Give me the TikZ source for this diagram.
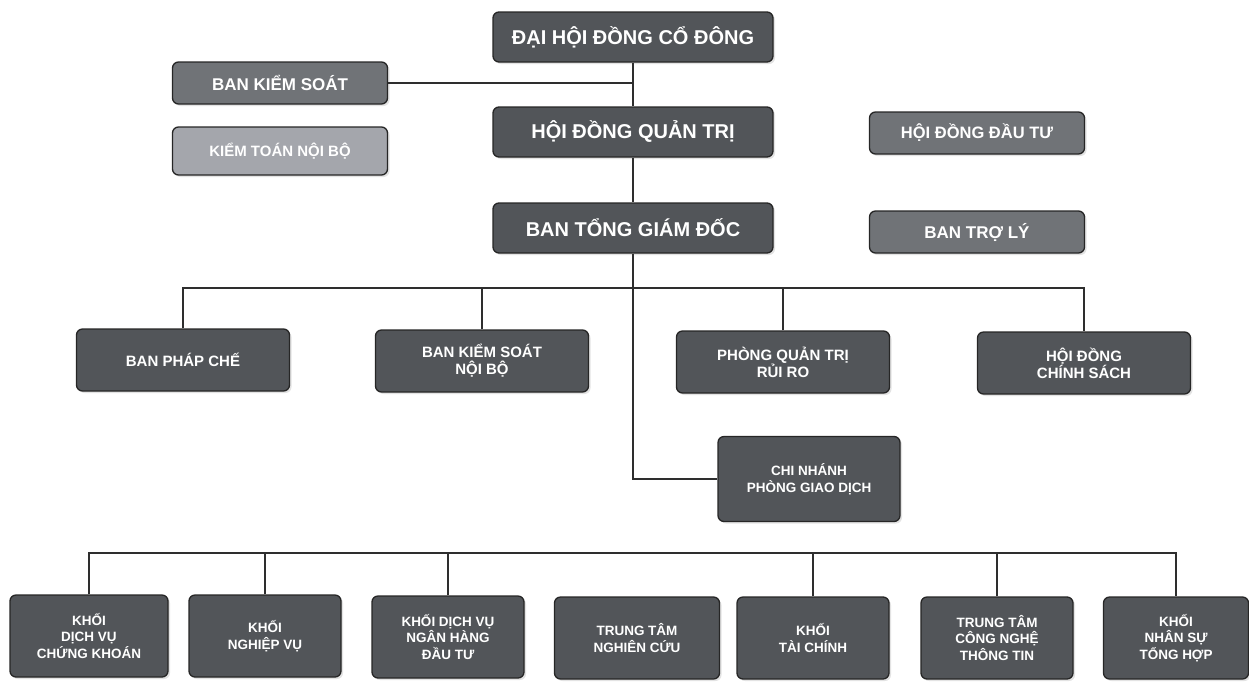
\documentclass[tikz,border=0pt]{standalone}
\usepackage{fontspec}
\setmainfont{Liberation Sans}
\usetikzlibrary{shadows}
\definecolor{boxdark}{HTML}{525559}
\definecolor{boxmid}{HTML}{707377}
\definecolor{boxlight}{HTML}{A4A6AC}
\definecolor{linec}{HTML}{2E2E2E}
\tikzset{
  orgbox/.style={draw=black!85, line width=1.3pt, rounded corners=6pt, fill=boxdark,
    text=white, font=\bfseries, align=center, inner sep=2pt,
    drop shadow={shadow xshift=2pt, shadow yshift=-2pt, fill=black!22}},
  topbox/.style={orgbox, minimum width=280pt, minimum height=50pt, font=\bfseries\fontsize{20}{22}\selectfont},
  sidebox/.style={orgbox, fill=boxmid, minimum width=215pt, minimum height=42pt, font=\bfseries\fontsize{17}{19}\selectfont},
  rowbox/.style={orgbox, minimum width=213pt, minimum height=62pt, font=\bfseries\fontsize{15}{17}\selectfont},
  botbox/.style={orgbox, minimum width=152pt, minimum height=82pt, font=\bfseries\fontsize{13.5}{16.5}\selectfont},
  conn/.style={draw=linec, line width=1.4pt}
}
\begin{document}
\begin{tikzpicture}[x=1pt, y=-1pt]
\useasboundingbox (0,0) rectangle (1249,681);
% top column
\node[topbox] (dhd) at (633,37) {ĐẠI HỘI ĐỒNG CỔ ĐÔNG};
\node[topbox] (hdqt) at (633,132) {HỘI ĐỒNG QUẢN TRỊ};
\node[topbox] (btgd) at (633,228) {BAN TỔNG GIÁM ĐỐC};
% side boxes
\node[sidebox] (bks) at (280,83) {BAN KIỂM SOÁT};
\node[sidebox, fill=boxlight, minimum height=48pt, font=\bfseries\fontsize{15}{17}\selectfont] (ktnb) at (280,151) {KIỂM TOÁN NỘI BỘ};
\node[sidebox, font=\bfseries\fontsize{16.5}{18}\selectfont] (hddt) at (977,133) {HỘI ĐỒNG ĐẦU TƯ};
\node[sidebox] (btl) at (977,232) {BAN TRỢ LÝ};
% row 2
\node[rowbox] (r1) at (183,360) {BAN PHÁP CHẾ};
\node[rowbox] (r2) at (482,361) {BAN KIỂM SOÁT\\NỘI BỘ};
\node[rowbox] (r3) at (783,362) {PHÒNG QUẢN TRỊ\\RỦI RO};
\node[rowbox] (r4) at (1084,363) {HỘI ĐỒNG\\CHÍNH SÁCH};
% branch
\node[orgbox, minimum width=182pt, minimum height=85pt, font=\bfseries\fontsize{13.5}{17}\selectfont] (cn) at (809,479) {CHI NHÁNH\\PHÒNG GIAO DỊCH};
% bottom row
\node[botbox, minimum width=158pt] (b1) at (89,636) {KHỐI\\DỊCH VỤ\\CHỨNG KHOÁN};
\node[botbox] (b2) at (265,636) {KHỐI\\NGHIỆP VỤ};
\node[botbox] (b3) at (448,637) {KHỐI DỊCH VỤ\\NGÂN HÀNG\\ĐẦU TƯ};
\node[botbox, minimum width=165pt] (b4) at (637,638) {TRUNG TÂM\\NGHIÊN CỨU};
\node[botbox] (b5) at (813,638) {KHỐI\\TÀI CHÍNH};
\node[botbox] (b6) at (997,638) {TRUNG TÂM\\CÔNG NGHỆ\\THÔNG TIN};
\node[botbox, minimum width=145pt] (b7) at (1176,638) {KHỐI\\NHÂN SỰ\\TỔNG HỢP};
% connectors
\coordinate (busA) at (0,288);
\coordinate (busB) at (0,553);
\draw[conn] (dhd.south) -- (hdqt.north);
\draw[conn] (bks.east) -- (bks.east -| dhd.south);
\draw[conn] (hdqt.south) -- (btgd.north);
\draw[conn] (btgd.south) |- (cn.west);
\draw[conn] (r1.north) -- (r1.north |- busA) -- (r4.north |- busA) -- (r4.north);
\draw[conn] (r2.north) -- (r2.north |- busA);
\draw[conn] (r3.north) -- (r3.north |- busA);
\draw[conn] (b1.north) -- (b1.north |- busB) -- (b7.north |- busB) -- (b7.north);
\draw[conn] (b2.north) -- (b2.north |- busB);
\draw[conn] (b3.north) -- (b3.north |- busB);
\draw[conn] (b5.north) -- (b5.north |- busB);
\draw[conn] (b6.north) -- (b6.north |- busB);
\end{tikzpicture}
\end{document}
